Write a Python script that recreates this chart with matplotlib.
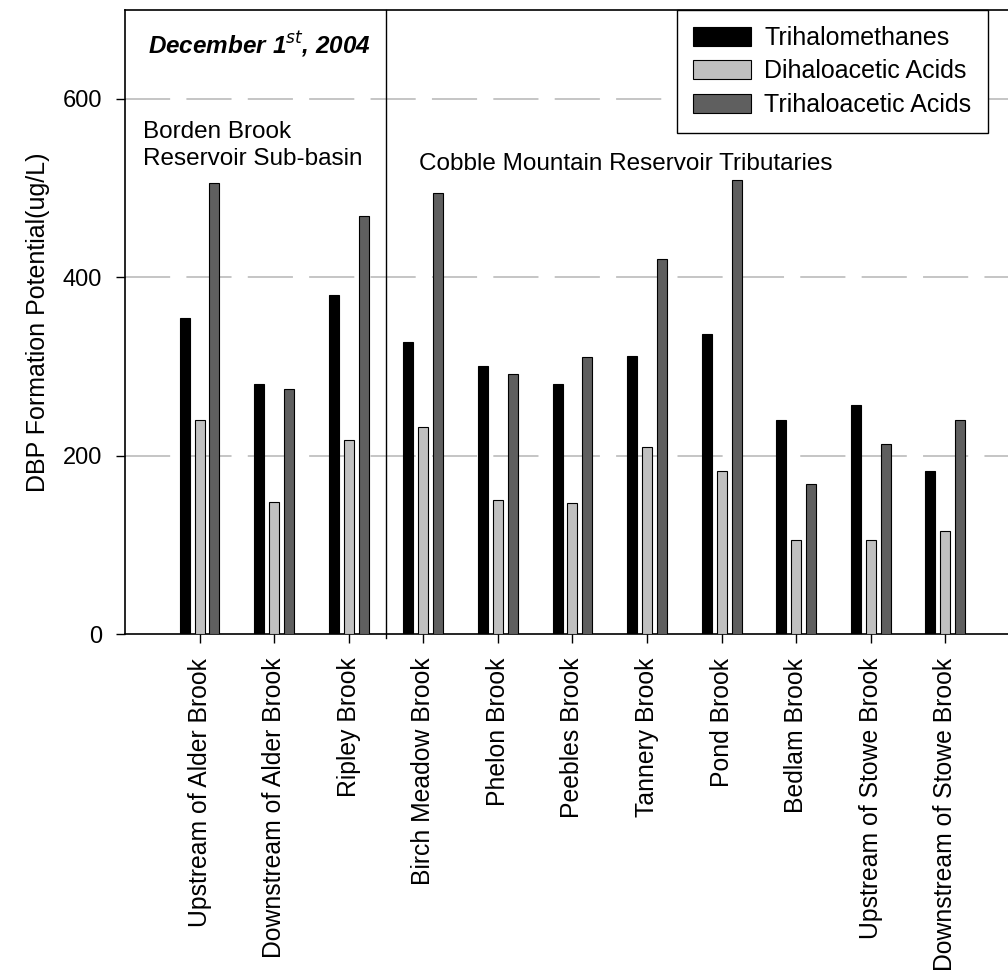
import matplotlib
matplotlib.use("Agg")
import matplotlib.pyplot as plt
import numpy as np

plt.rcParams['font.family'] = ['Liberation Sans', 'DejaVu Sans']

sites = ["Upstream of Alder Brook", "Downstream of Alder Brook", "Ripley Brook",
         "Birch Meadow Brook", "Phelon Brook", "Peebles Brook", "Tannery Brook",
         "Pond Brook", "Bedlam Brook", "Upstream of Stowe Brook",
         "Downstream of Stowe Brook"]
thm = [354, 280, 380, 328, 300, 280, 312, 336, 240, 257, 183]
dhaa = [240, 148, 218, 232, 150, 147, 210, 183, 106, 106, 115]
thaa = [506, 275, 469, 495, 292, 311, 421, 509, 168, 213, 240]
series_names = ["Trihalomethanes", "Dihaloacetic Acids", "Trihaloacetic Acids"]
yticks = [0, 200, 400, 600]

fig = plt.figure(figsize=(10.08, 9.71), dpi=100)
ax = fig.add_axes([0.124, 0.347, 0.876, 0.643])

x = np.arange(len(sites))
w = 0.134
off = 0.2
colors = ["#000000", "#c0c0c0", "#5f5f5f"]
for k, (vals, c, name) in enumerate(zip([thm, dhaa, thaa], colors, series_names)):
    ax.bar(x + (k - 1) * off, vals, width=w, color=c, edgecolor="#000000",
           linewidth=0.8, label=name, zorder=3)

ax.set_xlim(-1, 10.84)
ax.set_ylim(0, 700)
ax.set_yticks(yticks)
ax.set_yticklabels([str(t) for t in yticks], fontsize=17)
ax.set_xticks(x)
ax.set_xticklabels(sites, rotation=90, fontsize=17.8)
ax.tick_params(axis='both', direction='out', length=6.5, width=1, color='black')
ax.tick_params(axis='x', pad=10.5)
ax.tick_params(axis='y', pad=10)

for yv in yticks[1:]:
    ax.axhline(yv, color="#c0c0c0", linewidth=1.3, dashes=(25, 9), zorder=1)

ax.spines['right'].set_visible(False)
for s in ['left', 'top', 'bottom']:
    ax.spines[s].set_linewidth(1.2)

ax.plot([2.5, 2.5], [-4, 700], color="black", linewidth=1.0, clip_on=False, zorder=4)

ax.set_ylabel("DBP Formation Potential(ug/L)", fontsize=18, labelpad=9)

ax.text(0.026, 0.944, r"December 1$^{st}$, 2004", transform=ax.transAxes,
        fontsize=17.5, fontweight='bold', fontstyle='italic', va='center', ha='left')
ax.text(0.02, 0.783, "Borden Brook\nReservoir Sub-basin", transform=ax.transAxes,
        fontsize=17.5, va='center', ha='left', linespacing=1.3)
ax.text(0.333, 0.753, "Cobble Mountain Reservoir Tributaries", transform=ax.transAxes,
        fontsize=17.5, va='center', ha='left')

leg = ax.legend(loc='upper right', bbox_to_anchor=(0.977, 1.0), fontsize=18,
                frameon=True, fancybox=False, edgecolor='black', framealpha=1,
                handlelength=2.3, handleheight=0.8, borderpad=0.65,
                labelspacing=0.38, handletextpad=0.55, borderaxespad=0)
leg.get_frame().set_linewidth(1.0)

fig.savefig("out.png", dpi=100)
